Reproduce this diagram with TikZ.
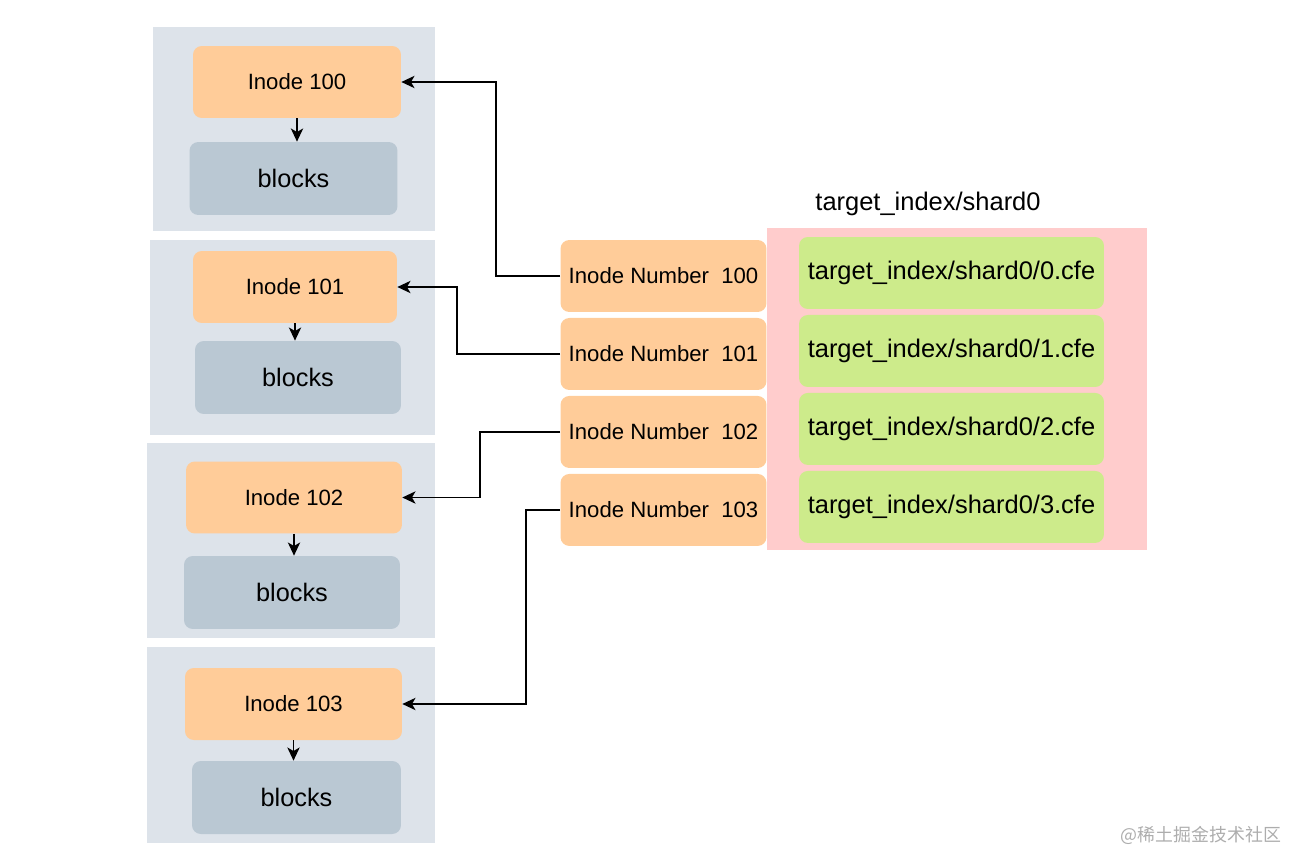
\documentclass[tikz,border=0pt]{standalone}
\usepackage{fontspec}
\setmainfont{Liberation Sans}
\newfontfamily\cjkfont{Noto Sans CJK SC}
\usepackage{xcolor}
\usetikzlibrary{arrows.meta, positioning, calc}
\definecolor{panelgray}{HTML}{DDE3EA}
\definecolor{blockgray}{HTML}{BAC8D3}
\definecolor{inodeorange}{HTML}{FFCC99}
\definecolor{shardpink}{HTML}{FFCCCC}
\definecolor{cfegreen}{HTML}{CDEB8B}
\tikzset{
    panel/.style={
        fill=panelgray,
    },
    shard/.style={
        fill=shardpink,
    },
    inode/.style={
        rectangle,
        rounded corners=5pt,
        fill=inodeorange,
        minimum width=4.16cm,
        minimum height=1.44cm,
        inner sep=0pt,
        font=\fontsize{12.6}{15}\selectfont,
    },
    block/.style={
        rectangle,
        rounded corners=5pt,
        fill=blockgray,
        minimum width=4.16cm,
        minimum height=1.46cm,
        inner sep=0pt,
        font=\fontsize{14.4}{17}\selectfont,
    },
    inum/.style={
        inode,
        minimum width=4.12cm,
    },
    cfe/.style={
        rectangle,
        rounded corners=5pt,
        fill=cfegreen,
        minimum width=6.1cm,
        minimum height=1.44cm,
        inner sep=0pt,
        font=\fontsize{14.5}{17}\selectfont,
    },
    link/.style={
        line width=0.9pt,
        -{Stealth[length=7.5pt, width=7pt, inset=2pt]},
    },
    watermark/.style={
        text=black!32,
        font=\fontsize{10.2}{12}\cjkfont,
    },
}

\begin{document}
\begin{tikzpicture}[x=0.02cm, y=-0.02cm, node distance=1.56cm, on grid]
      \useasboundingbox (0,0) rectangle (1304,868);

      \fill[panel] (153,27) rectangle (435,231);
      \fill[panel] (150,240) rectangle (435,435);
      \fill[panel] (147,443) rectangle (435,638);
      \fill[panel] (147,647) rectangle (435,843);
      \fill[shard] (767,228) rectangle (1147,550);

      \node[inode] (i100) at (297,82) {Inode 100};
      \node[block] (b100) at (293.5,178.5) {blocks};

      \node[inode, minimum width=4.08cm] (i101) at (295,287) {Inode 101};
      \node[block, minimum width=4.12cm] (b101) at (298,377.5) {blocks};

      \node[inode, minimum width=4.32cm] (i102) at (294,497.5) {Inode 102};
      \node[block, minimum width=4.32cm] (b102) at (292,592.5) {blocks};

      \node[inode, minimum width=4.34cm] (i103) at (293.5,704) {Inode 103};
      \node[block, minimum width=4.18cm] (b103) at (296.5,797.5) {blocks};

      \node[inum] (n100) at (663.5,276) {Inode Number~ 100};
      \node[inum, below=of n100] (n101) {Inode Number~ 101};
      \node[inum, below=of n101] (n102) {Inode Number~ 102};
      \node[inum, below=of n102] (n103) {Inode Number~ 103};

      \node (shard0) at (928,204) {\fontsize{14.5}{17}\selectfont target\_index/shard0};

      \node[cfe] (f0) at (951.5,273) {target\_index/shard0/0.cfe};
      \node[cfe, below=of f0] (f1) {target\_index/shard0/1.cfe};
      \node[cfe, below=of f1] (f2) {target\_index/shard0/2.cfe};
      \node[cfe, below=of f2] (f3) {target\_index/shard0/3.cfe};

      \draw[link] (i100.south) -- (i100.south |- b100.north);
      \draw[link] (i101.south) -- (i101.south |- b101.north);
      \draw[link] (i102.south) -- (i102.south |- b102.north);
      \draw[link] (i103.south) -- (i103.south |- b103.north);

      \draw[link] (n100.west) -- ++(-64,0) |- (i100.east);
      \draw[link] (n101.west) -- ++(-103,0) |- (i101.east);
      \draw[link] (n102.west) -- ++(-80,0) |- (i102.east);
      \draw[link] (n103.west) -- ++(-34,0) |- (i103.east);

      \node[watermark] (wm) at (1201,835) {@稀土掘金技术社区};
    \end{tikzpicture}
\end{document}
